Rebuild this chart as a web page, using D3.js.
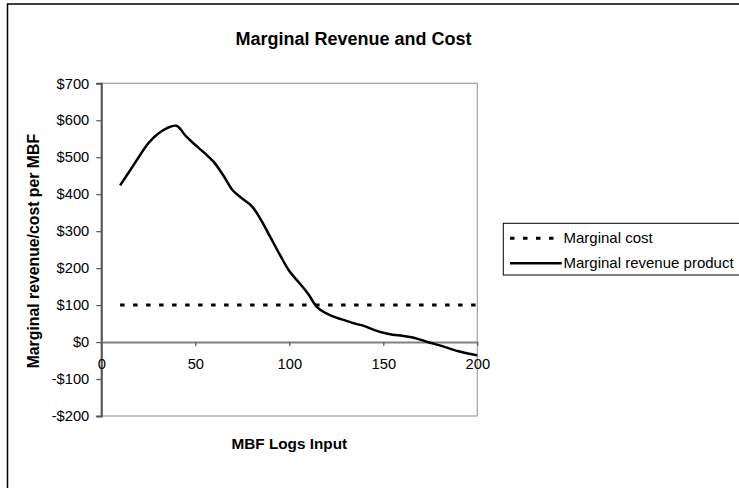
<!DOCTYPE html>
<html>
<head>
<meta charset="utf-8">
<script src="https://cdn.jsdelivr.net/npm/d3@7"></script>
<style>
  body { margin: 0; background: #fff; }
  svg { display: block; font-family: "Liberation Sans", Arial, sans-serif; }
</style>
</head>
<body>
<script>
// Values
const logsInput = [10, 15, 20, 25, 30, 35, 40, 45, 50, 55, 60, 65, 70, 75, 80, 85, 90, 95, 100,
  105, 110, 115, 120, 125, 130, 135, 140, 145, 150, 155, 160, 165, 170, 175, 180, 185, 190, 195, 200];
const marginalRevenue = [424, 462, 501, 538, 563, 579, 585, 557, 533, 511, 486, 450, 410, 388, 368, 330, 283, 236, 192,
  162, 131, 93, 77, 66, 58, 50, 43, 33, 25, 20, 17, 13, 6, -2, -9, -17, -25, -31, -36];
const marginalCost = logsInput.map(() => 100);
const xTicks = [0, 50, 100, 150, 200];
const yTicks = [-200, -100, 0, 100, 200, 300, 400, 500, 600, 700];
const seriesNames = ["Marginal cost", "Marginal revenue product"];

const W = 739, H = 488;
const plot = { left: 101.3, right: 477.3, top: 83.3, bottom: 416 };

const svg = d3.select("body").append("svg")
  .attr("width", W)
  .attr("height", H);

// outer chart border (only top and left visible in the crop)
svg.append("path")
  .attr("d", `M7.5,${H} V4 H${W}`)
  .attr("fill", "none")
  .attr("stroke", "#000")
  .attr("stroke-width", 1.5);

const x = d3.scaleLinear().domain([0, 200]).range([plot.left, plot.right]);
const y = d3.scaleLinear().domain([-200, 700]).range([plot.bottom, plot.top]);

// plot area border
svg.append("rect")
  .attr("x", plot.left)
  .attr("y", plot.top)
  .attr("width", plot.right - plot.left)
  .attr("height", plot.bottom - plot.top)
  .attr("fill", "none")
  .attr("stroke", "#a0a0a0")
  .attr("stroke-width", 1.2);

// Y axis
const yAxis = svg.append("g")
  .attr("transform", `translate(${plot.left},0)`)
  .call(d3.axisLeft(y).tickValues(yTicks).tickSize(5).tickPadding(7)
    .tickFormat(d => (d < 0 ? "-$" : "$") + Math.abs(d)));
yAxis.select(".domain").attr("stroke", "#555").attr("stroke-width", 2);
yAxis.selectAll(".tick line").attr("stroke", "#555").attr("stroke-width", 1.2);
yAxis.selectAll("text")
  .style("font-size", "14.7px")
  .attr("fill", "#000")
  .style("font-family", "Liberation Sans, Arial, sans-serif");

// X axis sits on the $0 line
const xAxis = svg.append("g")
  .attr("transform", `translate(0,${y(0)})`)
  .call(d3.axisBottom(x).tickValues(xTicks).tickSize(4).tickPadding(13).tickSizeOuter(0));
xAxis.select(".domain").attr("stroke", "#808080").attr("stroke-width", 2);
xAxis.selectAll(".tick line").attr("stroke", "#555").attr("stroke-width", 1.2);
xAxis.selectAll("text")
  .style("font-size", "14.7px")
  .attr("fill", "#000")
  .style("font-family", "Liberation Sans, Arial, sans-serif");

// Lines
const line = d3.line()
  .x(d => x(d[0]))
  .y(d => y(d[1]));

svg.append("path")
  .datum(d3.zip(logsInput, marginalCost))
  .attr("d", line)
  .attr("fill", "none")
  .attr("stroke", "#000")
  .attr("stroke-width", 3)
  .attr("stroke-dasharray", "4.5 8.5");

svg.append("path")
  .datum(d3.zip(logsInput, marginalRevenue))
  .attr("d", line.curve(d3.curveCatmullRom.alpha(0.5)))
  .attr("fill", "none")
  .attr("stroke", "#000")
  .attr("stroke-width", 2.5)
  .attr("stroke-linejoin", "round");

// Title
svg.append("text")
  .attr("x", 353.5)
  .attr("y", 45)
  .attr("text-anchor", "middle")
  .style("font-size", "18px")
  .style("font-weight", "bold")
  .text("Marginal Revenue and Cost");

// Axis titles
svg.append("text")
  .attr("x", (plot.left + plot.right) / 2)
  .attr("y", 449)
  .attr("text-anchor", "middle")
  .style("font-size", "15.3px")
  .style("font-weight", "bold")
  .text("MBF Logs Input");

svg.append("text")
  .attr("transform", `translate(39,${(plot.top + plot.bottom) / 2 + 1.5}) rotate(-90)`)
  .attr("text-anchor", "middle")
  .style("font-size", "15.8px")
  .style("font-weight", "bold")
  .text("Marginal revenue/cost per MBF");

// Legend
const legend = svg.append("g");
legend.append("rect")
  .attr("x", 503.3)
  .attr("y", 223.3)
  .attr("width", 260)
  .attr("height", 51.7)
  .attr("fill", "#fff")
  .attr("stroke", "#000")
  .attr("stroke-width", 1);

seriesNames.forEach((name, i) => {
  const cy = 238.3 + i * 25;
  legend.append("line")
    .attr("x1", 510)
    .attr("x2", 561.7)
    .attr("y1", cy)
    .attr("y2", cy)
    .attr("stroke", "#000")
    .attr("stroke-width", i === 0 ? 3 : 2.5)
    .attr("stroke-dasharray", i === 0 ? "4.5 8.5" : null);
  legend.append("text")
    .attr("x", 563.5)
    .attr("y", cy + 5)
    .style("font-size", "15px")
    .text(name);
});
</script>
</body>
</html>
